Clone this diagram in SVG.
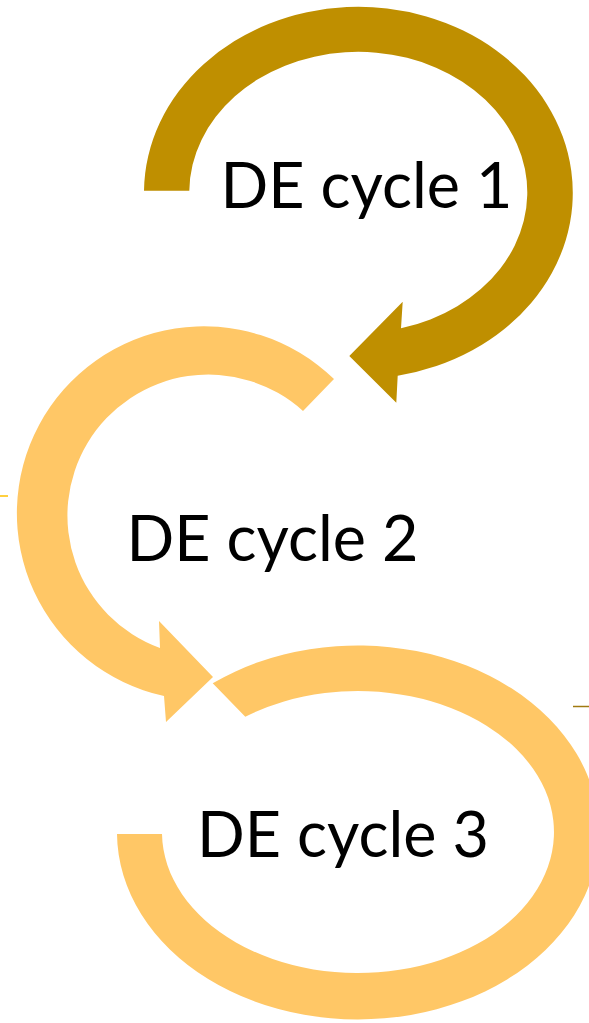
<svg xmlns="http://www.w3.org/2000/svg" width="589" height="1023" viewBox="0 0 589 1023">
  <style>
    .dark { fill: #BF8F00; }
    .light { fill: #FFC766; }
    .label { font-family: Lato, "Open Sans", "Liberation Sans", sans-serif; font-size: 63px; fill: #000000; text-anchor: middle; }
  </style>
  <rect x="0" y="0" width="589" height="1023" fill="#FFFFFF"/>
  <g id="marks">
    <line x1="0" y1="496" x2="8" y2="496" stroke="#FFC000" stroke-width="1.5"/>
    <line x1="573" y1="706.5" x2="589" y2="706.5" stroke="#A07A10" stroke-width="1.5"/>
  </g>
  <g id="node1">
    <path class="dark" d="M 144,190.7 A 214.4,186 0 1 1 397.7,375.7 L 396.3,402.7 L 349.3,356 L 402.7,301.7 L 401,328.3 A 169,140.5 0 1 0 189.3,190.7 Z"/>
    <text class="label" x="366.5" y="208.3" textLength="292" lengthAdjust="spacingAndGlyphs">DE cycle 1</text>
  </g>
  <g id="node2">
    <path class="light" d="M 334,379 A 187,187 0 1 0 164,696 L 166,722 L 213,677 L 159,621 L 160,648 A 141,141 0 1 1 303,411 Z"/>
    <text class="label" x="272.5" y="561" textLength="292" lengthAdjust="spacingAndGlyphs">DE cycle 2</text>
  </g>
  <g id="node3">
    <path class="light" d="M 212.7,683.3 A 241,187 0 1 1 117,834 L 162,834 A 196,141 0 1 0 245.3,716.7 Z"/>
    <text class="label" x="343" y="856.7" textLength="292" lengthAdjust="spacingAndGlyphs">DE cycle 3</text>
  </g>
</svg>
